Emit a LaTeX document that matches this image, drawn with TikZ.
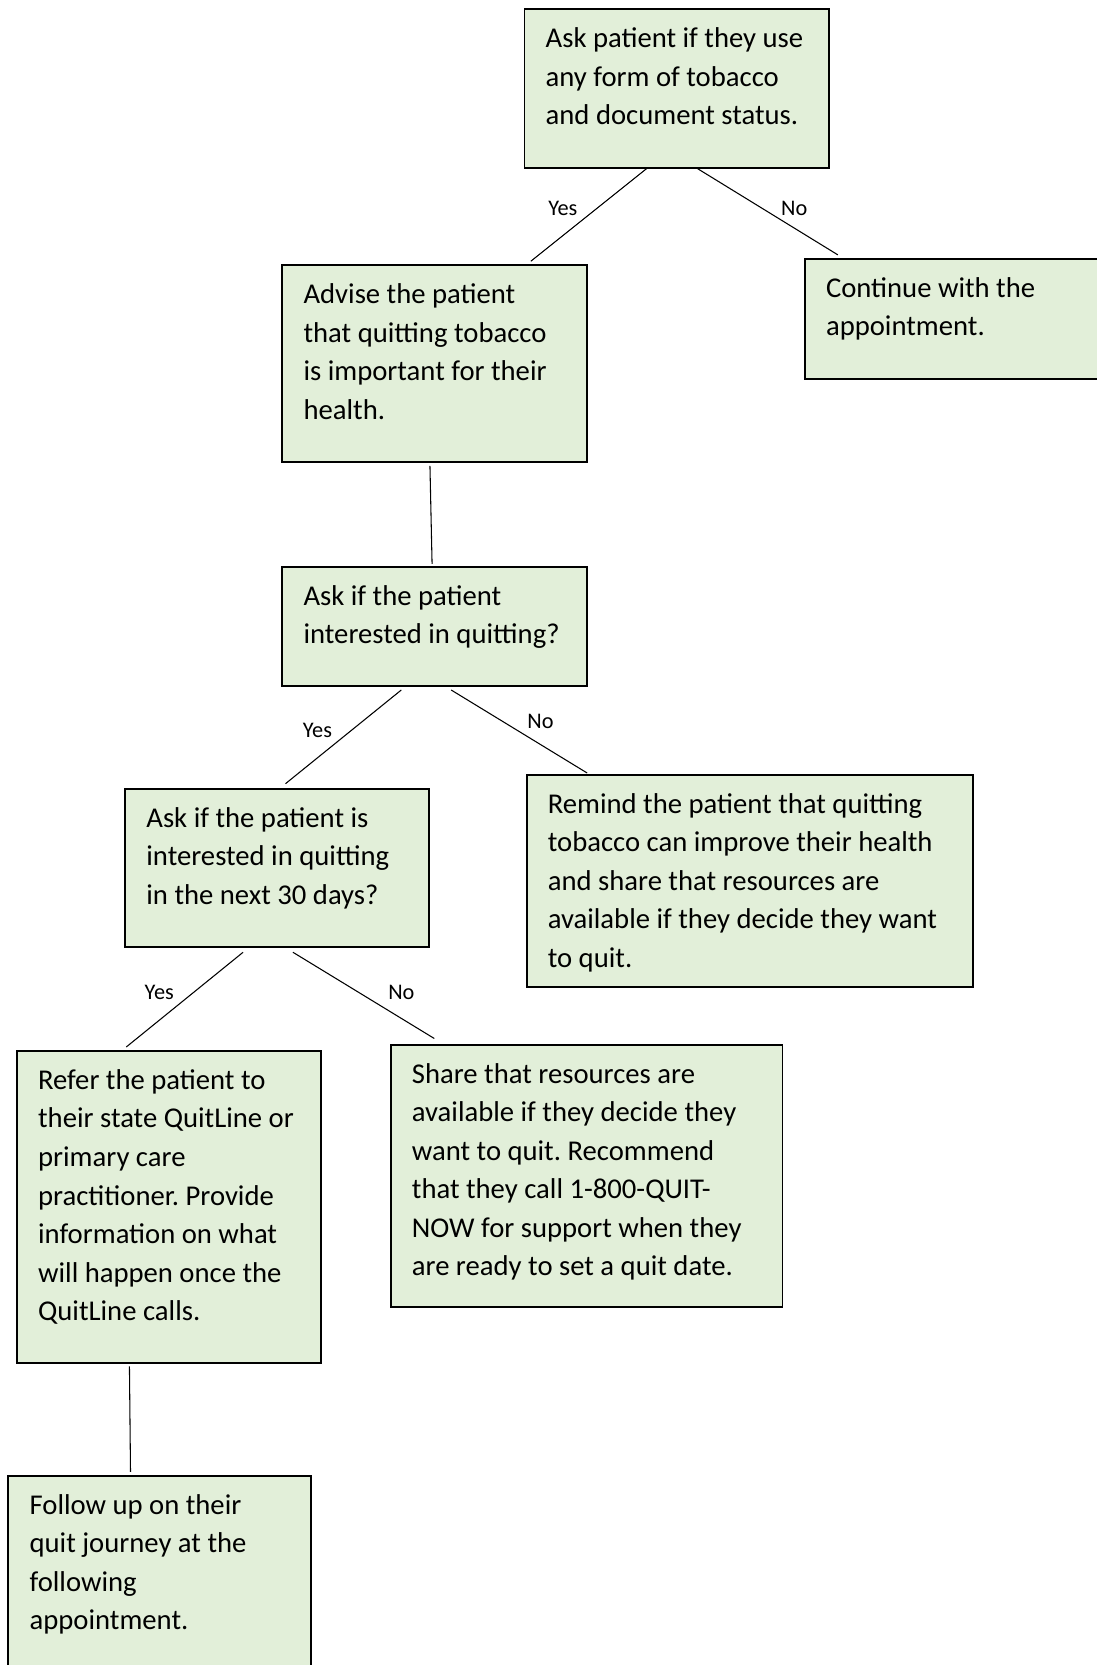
\documentclass[tikz,border=0pt]{standalone}
\usepackage{fontspec}
\setmainfont{Carlito}
\usetikzlibrary{calc}
\definecolor{boxgreen}{HTML}{E2EFD9}

\tikzset{
    stepbox/.style 2 args={draw, line width=0.9pt, fill=boxgreen, anchor=north west,
        inner xsep=10pt, inner ysep=0pt, text width=#1, align=flush left,
        text height=18pt, text depth=#2,
        font=\fontsize{13.5pt}{18.15pt}\selectfont\frenchspacing},
    link/.style={line width=0.5pt},
    answer/.style={inner sep=0pt, font=\fontsize{10.5pt}{12pt}\selectfont}
}

\begin{document}
\begin{tikzpicture}[x=0.5pt,y=-0.5pt]
    \useasboundingbox (0,0) rectangle (1033,1568);
    \clip (0,0) rectangle (1033,1568);
    % boxes
        \node[stepbox={123.5pt}{56.5pt}] (ask) at (493,8) {Ask patient if they use\\any form of tobacco\\and document status.};
        \node[stepbox={123.5pt}{74.5pt}] (advise) at (265,249) {Advise the patient\\that quitting tobacco\\is important for their\\health.};
        \node[stepbox={130pt}{38.5pt}] (cont) at (757,243) {Continue with the\\appointment.};
        \node[stepbox={123.5pt}{38pt}] (interest) at (265,533) {Ask if the patient\\interested in quitting?};
        \node[stepbox={123pt}{56.5pt}] (thirty) at (117,742) {Ask if the patient is\\interested in quitting\\in the next 30 days?};
        \node[stepbox={190pt}{82pt}] (remind) at (495,729) {Remind the patient that quitting\\tobacco can improve their health\\and share that resources are\\available if they decide they want\\to quit.};
        \node[stepbox={123pt}{129pt}] (refer) at (15,989) {Refer the patient to\\their state QuitLine or\\primary care\\practitioner. Provide\\information on what\\will happen once the\\QuitLine calls.};
        \node[stepbox={164.5pt}{105.5pt}] (share) at (367,983) {Share that resources are\\available if they decide they\\want to quit. Recommend\\that they call 1-800-QUIT-\\NOW for support when they\\are ready to set a quit date.};
        \node[stepbox={122.5pt}{82pt}] (follow) at (7,1389) {Follow up on their\\quit journey at the\\following\\appointment.};
    % lines
        \draw[link] ($(ask.south)+(-28.5,0)$) -- ($(advise.north)+(90.5,-3)$);
        \draw[link] ($(ask.south)+(19.5,0)$) -- ($(cont.north west)+(32,-3)$);
        \draw[link] ($(advise.south)+(-4.5,3)$) -- ($(interest.north)+(-2.5,-2)$);
        \draw[link] ($(interest.south)+(-31.5,3)$) -- ($(thirty.north)+(8,-4)$);
        \draw[link] ($(interest.south)+(15.5,3)$) -- ($(remind.north west)+(58,-1)$);
        \draw[link] ($(thirty.south)+(-32,4)$) -- ($(refer.north)+(-40,-3)$);
        \draw[link] ($(thirty.south)+(15,4)$) -- ($(share.north west)+(42,-5)$);
        \draw[link] ($(refer.south)+(-37,2)$) -- ($(follow.north)+(-27.5,-3)$);
    % yes / no
        \node[answer] (yes1) at (530,196) {Yes};
        \node[answer] (no1) at (748,196) {No};
        \node[answer] (yes2) at (299,688) {Yes};
        \node[answer] (no2) at (509,679) {No};
        \node[answer] (yes3) at (150,935) {Yes};
        \node[answer] (no3) at (378,935) {No};
\end{tikzpicture}
\end{document}
